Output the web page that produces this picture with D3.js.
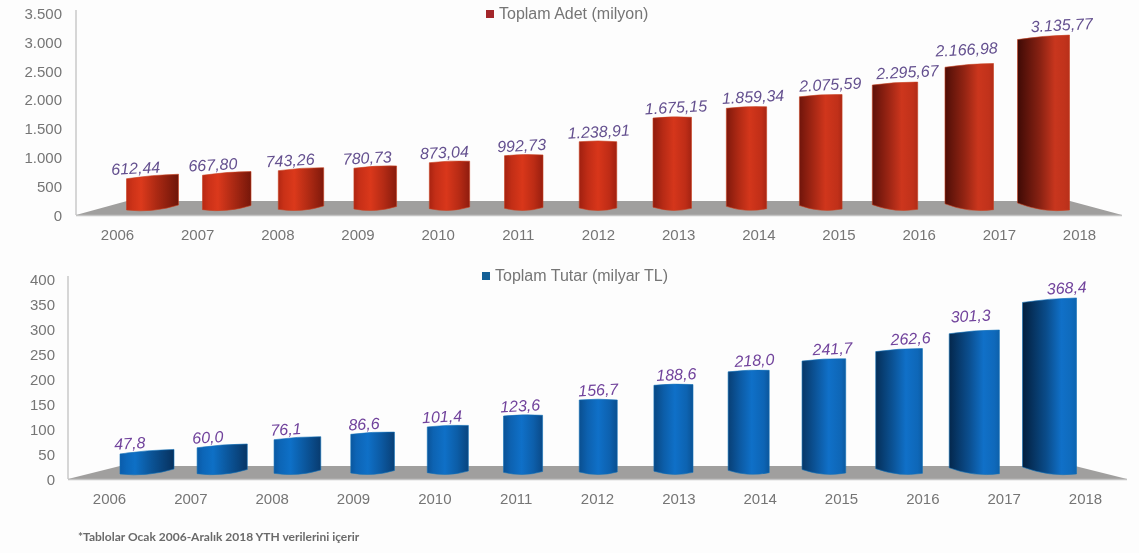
<!DOCTYPE html>
<html>
<head>
<meta charset="utf-8">
<script src="https://cdn.jsdelivr.net/npm/d3@7"></script>
<style>
  html, body { margin: 0; padding: 0; background: #fff; }
  svg { display: block; filter: blur(0.7px); }
</style>
</head>
<body>
<script>
// ---------- DATA ----------
var years = ["2006", "2007", "2008", "2009", "2010", "2011", "2012", "2013", "2014", "2015", "2016", "2017", "2018"];

var adetValues = [612.44, 667.80, 743.26, 780.73, 873.04, 992.73, 1238.91, 1675.15, 1859.34, 2075.59, 2295.67, 2627, 3135.77];
var adetLabels = ["612,44", "667,80", "743,26", "780,73", "873,04", "992,73", "1.238,91", "1.675,15", "1.859,34", "2.075,59", "2.295,67", "2.166,98", "3.135,77"];
var adetTicks = [0, 500, 1000, 1500, 2000, 2500, 3000, 3500];

var tutarValues = [47.8, 60.0, 76.1, 86.6, 101.4, 123.6, 156.7, 188.6, 218.0, 241.7, 262.6, 301.3, 368.4];
var tutarLabels = ["47,8", "60,0", "76,1", "86,6", "101,4", "123,6", "156,7", "188,6", "218,0", "241,7", "262,6", "301,3", "368,4"];
var tutarTicks = [0, 50, 100, 150, 200, 250, 300, 350, 400];

// ---------- DIMENSIONS ----------
var w = 1139, h = 553;
var font = "'Liberation Sans', Arial, sans-serif";
var tickColor = "#757575";

var trLocale = d3.formatLocale({ decimal: ",", thousands: ".", grouping: [3], currency: ["", ""] });
var fmt = trLocale.format(",d");

var svg = d3.select("body").append("svg")
  .attr("width", w)
  .attr("height", h);

svg.append("rect").attr("width", w).attr("height", h).attr("fill", "#fdfdfd");
var defs = svg.append("defs");

// ---------- DRAW ONE PANEL ----------
function drawPanel(opts) {
  var g = svg.append("g");

  var y = d3.scaleLinear().domain([0, opts.maxY]).range([opts.axisBottom, opts.axisTop]);
  // the bars stand further back on the floor so they get their own vertical scale
  var barY = d3.scaleLinear().domain([0, opts.maxY]).range([opts.barBase, opts.barTop]);
  var barX = d3.scalePoint().domain(years).range(opts.barRange);
  var labelX = d3.scalePoint().domain(years).range(opts.labelRange);
  var yearX = d3.scalePoint().domain(years).range(opts.yearRange);

  var leftCol = d3.scaleLinear().domain([-1, 0, 1]).range(opts.leftColors);
  var midCol = d3.scaleLinear().domain([-1, 0, 1]).range(opts.midColors);
  var rightCol = d3.scaleLinear().domain([-1, 0, 1]).range(opts.rightColors);

  // wall line
  g.append("line")
    .attr("x1", opts.wallX).attr("y1", opts.axisTop - 2)
    .attr("x2", opts.wallX).attr("y2", opts.axisBottom + 1)
    .attr("stroke", "#c9c9c9")
    .attr("stroke-width", 1.5);

  // floor
  g.append("path")
    .attr("d", d3.line()([
      [opts.wallX, opts.axisBottom + 1],
      [opts.floorBack[0], opts.floorY],
      [opts.floorBack[1], opts.floorY],
      [opts.floorRight, opts.axisBottom + 1]
    ]) + "Z")
    .attr("fill", "#a09f9e");

  g.append("line")
    .attr("x1", opts.wallX).attr("y1", opts.axisBottom + 1.5)
    .attr("x2", opts.floorRight).attr("y2", opts.axisBottom + 1.5)
    .attr("stroke", "#c4c4c4")
    .attr("stroke-width", 1.5);

  // axes
  var yAxis = g.append("g")
    .attr("transform", "translate(" + opts.tickRight + ",1.5)")
    .call(d3.axisLeft(y).tickValues(opts.ticks).tickFormat(fmt).tickSize(0).tickPadding(0));
  var xAxis = g.append("g")
    .attr("transform", "translate(0," + opts.yearY + ")")
    .call(d3.axisBottom(yearX).tickSize(0).tickPadding(0));
  [yAxis, xAxis].forEach(function (a) {
    a.select(".domain").remove();
    a.selectAll("text")
      .attr("font-family", font)
      .attr("font-size", "15px")
      .attr("fill", tickColor);
  });

  // bars
  var mid = (opts.barRange[0] + opts.barRange[1]) / 2;
  var half = (opts.barRange[1] - opts.barRange[0]) / 2;

  years.forEach(function (yr, i) {
    var cx = barX(yr);
    var t = (cx - mid) / half;
    var a = Math.abs(t);
    var bw = opts.minBarW + opts.barWGrow * Math.pow(a, 1.5);
    var x0 = cx - bw / 2 + t * 0.5, x1 = cx + bw / 2 + t * 0.5;
    var top = barY(opts.values[i]);

    var gradId = opts.id + "-grad-" + i;
    var peak = 0.5 + 0.22 * t;
    var grad = defs.append("linearGradient").attr("id", gradId);
    grad.append("stop").attr("offset", 0).attr("stop-color", leftCol(t));
    grad.append("stop").attr("offset", Math.max(0.12, peak - 0.28)).attr("stop-color", d3.interpolateRgb(leftCol(t), midCol(t))(0.55));
    grad.append("stop").attr("offset", peak).attr("stop-color", midCol(t));
    grad.append("stop").attr("offset", Math.min(0.9, peak + 0.3)).attr("stop-color", d3.interpolateRgb(rightCol(t), midCol(t))(0.55));
    grad.append("stop").attr("offset", 1).attr("stop-color", rightCol(t));

    var topL = top + a * 2.5, topR = top - a * 2;
    var baseMid = opts.barBase;
    var botL = baseMid - 2 + (t < 0 ? -t * 2 : -t * 5);
    var botR = baseMid - 2 + (t > 0 ? t * 2 : t * 3);

    var d = "M" + x0 + "," + topL +
      "Q" + cx + "," + (top - 1.5) + " " + x1 + "," + topR +
      "L" + x1 + "," + botR +
      "Q" + cx + "," + (baseMid + 3) + " " + x0 + "," + botL + "Z";

    g.append("path")
      .attr("d", d)
      .attr("fill", "url(#" + gradId + ")")
      .attr("stroke", opts.edgeColor)
      .attr("stroke-width", 0.6);

    // the 2017 label was dragged off its spot in the source chart
    var shift = yr === "2017" ? opts.label2017 : [0, 0];
    var lx = labelX(yr) + shift[0];
    var ly = top - 4.5 - t * 2 + shift[1];
    g.append("text")
      .text(opts.labels[i])
      .attr("transform", "translate(" + lx + "," + ly + ") rotate(-3)")
      .attr("text-anchor", "middle")
      .attr("font-family", font)
      .attr("font-style", "italic")
      .attr("font-size", "16px")
      .attr("fill", opts.labelColor);
  });

  // legend
  g.append("rect")
    .attr("x", opts.legendX).attr("y", opts.legendY - 4)
    .attr("width", 8).attr("height", 8)
    .attr("fill", opts.legendColor);
  g.append("text")
    .text(opts.legendText)
    .attr("x", opts.legendX + 13)
    .attr("y", opts.legendY + 5)
    .attr("font-family", font)
    .attr("font-size", "16px")
    .attr("fill", tickColor);
}

// ---------- DRAW 2 PANELS ----------
drawPanel({
  id: "adet",
  values: adetValues, labels: adetLabels, ticks: adetTicks, maxY: 3500,
  axisTop: 12, axisBottom: 214, barBase: 210, barTop: 17,
  wallX: 76, floorRight: 1122, floorBack: [127, 1070], floorY: 201,
  tickRight: 62, yearY: 229,
  barRange: [153, 1043], labelRange: [136, 1062], yearRange: [117, 1079],
  minBarW: 37.5, barWGrow: 14.5,
  leftColors: ["#bb2a14", "#a02010", "#3f0a05"],
  midColors: ["#dc3a1c", "#d8361a", "#c8361e"],
  rightColors: ["#6e1509", "#a02010", "#b8301a"],
  edgeColor: "#c8401f",
  labelColor: "#64508f", label2017: [-18, -4],
  legendX: 486, legendY: 14, legendColor: "#a3262a", legendText: "Toplam Adet (milyon)"
});

drawPanel({
  id: "tutar",
  values: tutarValues, labels: tutarLabels, ticks: tutarTicks, maxY: 400,
  axisTop: 278, axisBottom: 478, barBase: 474, barTop: 285,
  wallX: 68, floorRight: 1127, floorBack: [120, 1075], floorY: 466,
  tickRight: 55, yearY: 493,
  barRange: [147.5, 1049], labelRange: [130, 1067], yearRange: [109, 1085],
  minBarW: 38, barWGrow: 16,
  leftColors: ["#0a5cab", "#0a4f90", "#031f3e"],
  midColors: ["#0e70c6", "#0f70c8", "#1070c8"],
  rightColors: ["#07315e", "#0a4f90", "#0d64b0"],
  edgeColor: "#1170b8",
  labelColor: "#71439c", label2017: [-18, -4],
  legendX: 482, legendY: 276, legendColor: "#125f96", legendText: "Toplam Tutar (milyar TL)"
});

// ---------- FOOTNOTE ----------
svg.append("text")
  .text("*Tablolar Ocak 2006-Aralık 2018 YTH verilerini içerir")
  .attr("x", 78)
  .attr("y", 541)
  .attr("font-family", "Lato, 'Open Sans', sans-serif")
  .attr("font-weight", "bold")
  .attr("font-size", "12px")
  .attr("fill", "#6a6a6a");
</script>
</body>
</html>
